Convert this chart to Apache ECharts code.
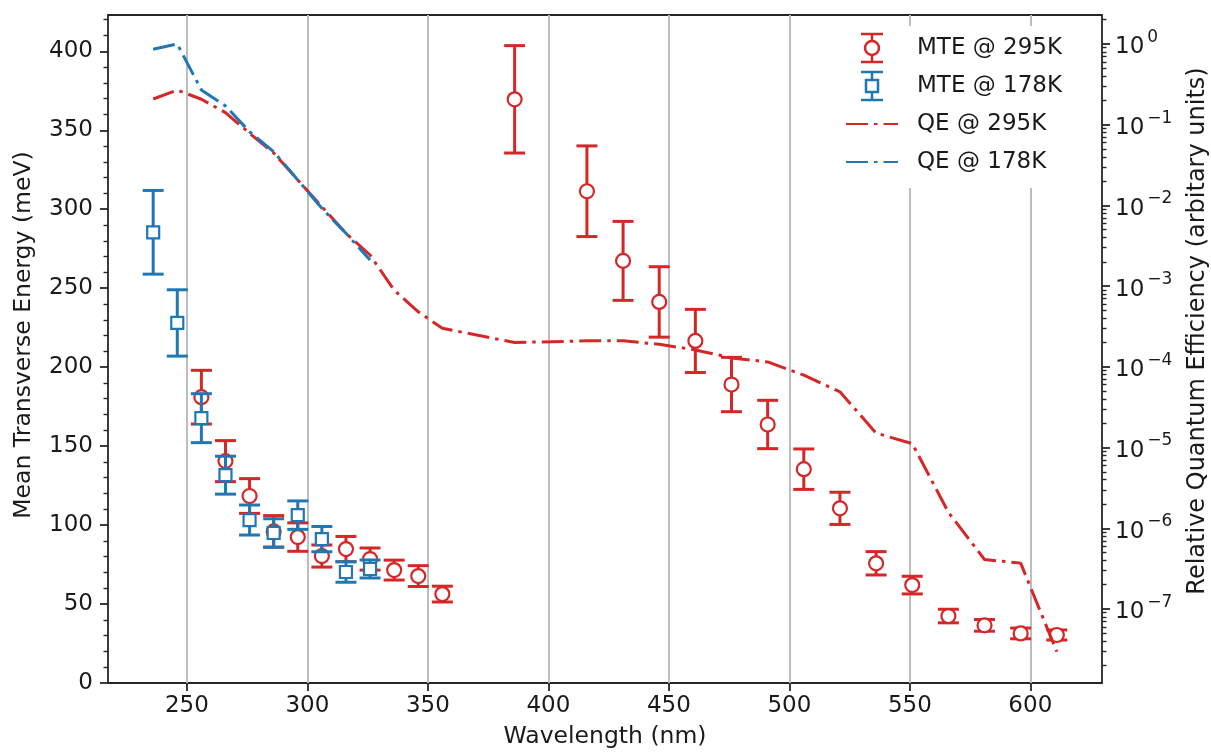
<!DOCTYPE html>
<html>
<head>
<meta charset="utf-8">
<script src="https://cdn.jsdelivr.net/npm/echarts@6/dist/echarts.min.js"></script>
<style>
  html, body { margin: 0; padding: 0; background: #fff; }
  #chart { width: 1211px; height: 754px; }
</style>
</head>
<body>
<div id="chart"></div>
<script>
// Mean transverse energy at 295 K: wavelength (nm), MTE (meV), error (meV)
const wl295 = [256, 266, 276, 286, 296, 306, 316, 326, 336, 346, 356,
               386, 416, 431, 446, 461, 476, 491, 506, 521, 536, 551, 566, 581, 596, 611];
const mte295 = [181, 140.5, 118.4, 96, 92.4, 80.4, 84.8, 78.5, 71.5, 67.7, 56.3,
                369.6, 311.4, 267.3, 241.3, 216.6, 189, 163.7, 135.4, 110.6, 75.8, 62, 42.4, 36.5, 31.4, 30.4];
const err295 = [17, 13, 11, 10, 9, 7, 8, 7, 6.3, 6.6, 5,
                34, 28.7, 25, 22.3, 20, 17.2, 15.3, 12.8, 10.2, 7.4, 5.6, 4.3, 3.7, 3.4, 3.2];

// Mean transverse energy at 178 K
const wl178 = [236, 246, 256, 266, 276, 286, 296, 306, 316, 326];
const mte178 = [285.4, 228, 167.7, 131.6, 103.2, 95, 106.3, 91.1, 70.3, 72.2];
const err178 = [26.5, 21, 15.5, 12, 9.5, 9, 9, 8, 6.5, 5.7];

// Relative quantum efficiency (arbitrary units)
const qeWl295 = [236, 246, 256, 266, 276, 286, 296, 306, 316, 326, 336, 346, 356,
                 386, 416, 431, 446, 461, 476, 491, 506, 521, 536, 551, 566, 581, 596, 611];
const qe295 = [0.208, 0.269, 0.2065, 0.141, 0.0782, 0.0447, 0.0207, 0.00964, 0.00451, 0.00243, 8.9e-4, 4.8e-4, 3.0e-4,
               2.0e-4, 2.1e-4, 2.1e-4, 1.9e-4, 1.62e-4, 1.29e-4, 1.15e-4, 7.9e-5, 4.9e-5, 1.51e-5, 1.12e-5, 1.58e-6, 4.1e-7, 3.7e-7, 2.95e-8];
const qeWl178 = [236, 246, 256, 266, 276, 286, 296, 306, 316, 326];
const qe178 = [0.859, 1.0, 0.269, 0.171, 0.0818, 0.0463, 0.0207, 0.0092, 0.00451, 0.0021];

// Tick labels
const xTicks = [250, 300, 350, 400, 450, 500, 550, 600];
const mteTicks = [0, 50, 100, 150, 200, 250, 300, 350, 400];
const qeDecades = [-7, -6, -5, -4, -3, -2, -1, 0];

const RED = '#d62728';
const BLUE = '#1f77b4';
const FONT = 'DejaVu Sans';
const TXT = '#1a1a1a';
const AX = '#262626';
const NONE = 'rgba(0,0,0,0)';

const X_MIN = 217.25, X_MAX = 629.75;
const MTE_MIN = 0, MTE_MAX = 423;
const LQE_MIN = -7.917, LQE_MAX = 0.359;   // log10 range of the QE axis

const mteMinor = [];
for (let v = 10; v < MTE_MAX; v += 10) if (v % 50 !== 0) mteMinor.push(v);
const qeMinor = [];
for (let n = -8; n <= 0; n++) {
  for (let k = 2; k <= 9; k++) {
    const l = n + Math.log10(k);
    if (l > LQE_MIN && l < LQE_MAX) qeMinor.push(l);
  }
}

function errorBar(shape) {
  return function (params, api) {
    const x = api.value(0), y = api.value(1), e = api.value(2);
    const c = api.coord([x, y]);
    const hi = api.coord([x, y + e]);
    const lo = api.coord([x, y - e]);
    const color = api.visual('color');
    const cap = 10.5;
    const st = { stroke: color, lineWidth: 3 };
    const children = [
      { type: 'line', shape: { x1: c[0], y1: hi[1], x2: c[0], y2: lo[1] }, style: st },
      { type: 'line', shape: { x1: c[0] - cap, y1: hi[1], x2: c[0] + cap, y2: hi[1] }, style: st },
      { type: 'line', shape: { x1: c[0] - cap, y1: lo[1], x2: c[0] + cap, y2: lo[1] }, style: st }
    ];
    if (shape === 'circle') {
      children.push({ type: 'circle', shape: { cx: c[0], cy: c[1], r: 7 },
        style: { fill: '#fff', stroke: color, lineWidth: 2.2 } });
    } else {
      children.push({ type: 'rect', shape: { x: c[0] - 6, y: c[1] - 6, width: 12, height: 12 },
        style: { fill: '#fff', stroke: color, lineWidth: 2.2 } });
    }
    return { type: 'group', children: children };
  };
}

const circleIcon = 'path://M0,0L22,0M11,0L11,7M11,21L11,28M0,28L22,28M18,14A7,7 0 1 1 4,14A7,7 0 1 1 18,14Z';
const squareIcon = 'path://M0,0L22,0M11,0L11,8M11,20L11,28M0,28L22,28M5,8L17,8L17,20L5,20Z';
const dashDot = [22, 6, 3.5, 6];

function supLabel(v) {
  const n = Math.round(v);
  return '{b|10}{s|' + (n < 0 ? '\u2212' + (-n) : String(n)) + '}';
}

const chart = echarts.init(document.getElementById('chart'), null, { renderer: 'canvas' });

chart.setOption({
  animation: false,
  backgroundColor: '#fff',
  textStyle: { fontFamily: FONT },
  grid: {
    left: 108, right: 109, top: 15, bottom: 71,
    outerBoundsMode: 'none', containLabel: false,
    show: true, borderColor: AX, borderWidth: 1.8, backgroundColor: 'transparent'
  },
  legend: {
    orient: 'vertical',
    left: 840, top: 26,
    padding: [3, 10, 7, 5],
    backgroundColor: '#fff',
    itemWidth: 52, itemHeight: 28, itemGap: 0,
    textStyle: { fontSize: 23, lineHeight: 38, color: TXT, fontFamily: FONT, padding: [0, 0, 0, 14] },
    data: [
      { name: 'MTE @ 295K', icon: circleIcon, itemStyle: { color: '#fff', borderColor: RED, borderWidth: 2.5 } },
      { name: 'MTE @ 178K', icon: squareIcon, itemStyle: { color: '#fff', borderColor: BLUE, borderWidth: 2.5 } },
      { name: 'QE @ 295K', itemStyle: { color: NONE, borderColor: NONE, borderWidth: 0 } },
      { name: 'QE @ 178K', itemStyle: { color: NONE, borderColor: NONE, borderWidth: 0 } }
    ]
  },
  xAxis: {
    type: 'value', min: X_MIN, max: X_MAX, splitNumber: 8,
    name: 'Wavelength (nm)', nameLocation: 'middle', nameGap: 42,
    nameTextStyle: { fontSize: 23.5, color: TXT, fontFamily: FONT },
    axisLine: { show: false },
    axisTick: { show: true, length: 8, customValues: xTicks, lineStyle: { color: AX, width: 1.8 } },
    axisLabel: { customValues: xTicks, fontSize: 23, color: TXT, fontFamily: FONT, margin: 12 },
    splitLine: { show: true, lineStyle: { color: '#bdbdbd', width: 2 } }
  },
  yAxis: [
    {
      type: 'value', position: 'left', min: MTE_MIN, max: MTE_MAX,
      name: 'Mean Transverse Energy (meV)', nameLocation: 'middle', nameGap: 72,
      nameTextStyle: { fontSize: 23.5, color: TXT, fontFamily: FONT, padding: [0, 0, 0, 28] },
      axisLine: { show: false },
      axisTick: { show: true, length: 8, customValues: mteTicks, lineStyle: { color: AX, width: 1.8 } },
      axisLabel: { customValues: mteTicks, fontSize: 23, color: TXT, fontFamily: FONT, margin: 15 },
      splitLine: { show: false }
    },
    {
      type: 'value', position: 'left', min: MTE_MIN, max: MTE_MAX,
      axisLine: { show: false },
      axisTick: { show: true, length: 4.5, customValues: mteMinor, lineStyle: { color: AX, width: 1.4 } },
      axisLabel: { show: false },
      splitLine: { show: false }
    },
    {
      type: 'value', position: 'right', min: LQE_MIN, max: LQE_MAX,
      name: 'Relative Quantum Efficiency (arbitary units)', nameLocation: 'middle', nameGap: 84, nameRotate: 90,
      nameTextStyle: { fontSize: 24, color: TXT, fontFamily: FONT, padding: [0, 0, 0, 36] },
      axisLine: { show: false },
      axisTick: { show: true, length: 8, customValues: qeDecades, lineStyle: { color: AX, width: 1.8 } },
      axisLabel: {
        customValues: qeDecades, margin: 13, formatter: supLabel,
        rich: {
          b: { fontSize: 23, color: TXT, fontFamily: FONT, verticalAlign: 'bottom', lineHeight: 30 },
          s: { fontSize: 17, color: TXT, fontFamily: FONT, verticalAlign: 'top', padding: [0, 0, 0, 3], lineHeight: 30 }
        }
      },
      splitLine: { show: false }
    },
    {
      type: 'value', position: 'right', min: LQE_MIN, max: LQE_MAX,
      axisLine: { show: false },
      axisTick: { show: true, length: 4.5, customValues: qeMinor, lineStyle: { color: AX, width: 1.4 } },
      axisLabel: { show: false },
      splitLine: { show: false }
    }
  ],
  series: [
    {
      name: 'MTE @ 295K', type: 'custom', xAxisIndex: 0, yAxisIndex: 0,
      itemStyle: { color: RED }, clip: false, z: 2,
      encode: { x: 0, y: 1 },
      renderItem: errorBar('circle'),
      data: wl295.map((w, i) => [w, mte295[i], err295[i]])
    },
    {
      name: 'MTE @ 178K', type: 'custom', xAxisIndex: 0, yAxisIndex: 0,
      itemStyle: { color: BLUE }, clip: false, z: 3,
      encode: { x: 0, y: 1 },
      renderItem: errorBar('square'),
      data: wl178.map((w, i) => [w, mte178[i], err178[i]])
    },
    {
      name: 'QE @ 295K', type: 'line', xAxisIndex: 0, yAxisIndex: 2,
      symbol: 'none', showSymbol: false, z: 4,
      lineStyle: { color: RED, width: 3, type: dashDot },
      itemStyle: { color: RED },
      data: qeWl295.map((w, i) => [w, Math.log10(qe295[i])])
    },
    {
      name: 'QE @ 178K', type: 'line', xAxisIndex: 0, yAxisIndex: 2,
      symbol: 'none', showSymbol: false, z: 5,
      lineStyle: { color: BLUE, width: 3, type: dashDot },
      itemStyle: { color: BLUE },
      data: qeWl178.map((w, i) => [w, Math.log10(qe178[i])])
    }
  ]
});
</script>
</body>
</html>
